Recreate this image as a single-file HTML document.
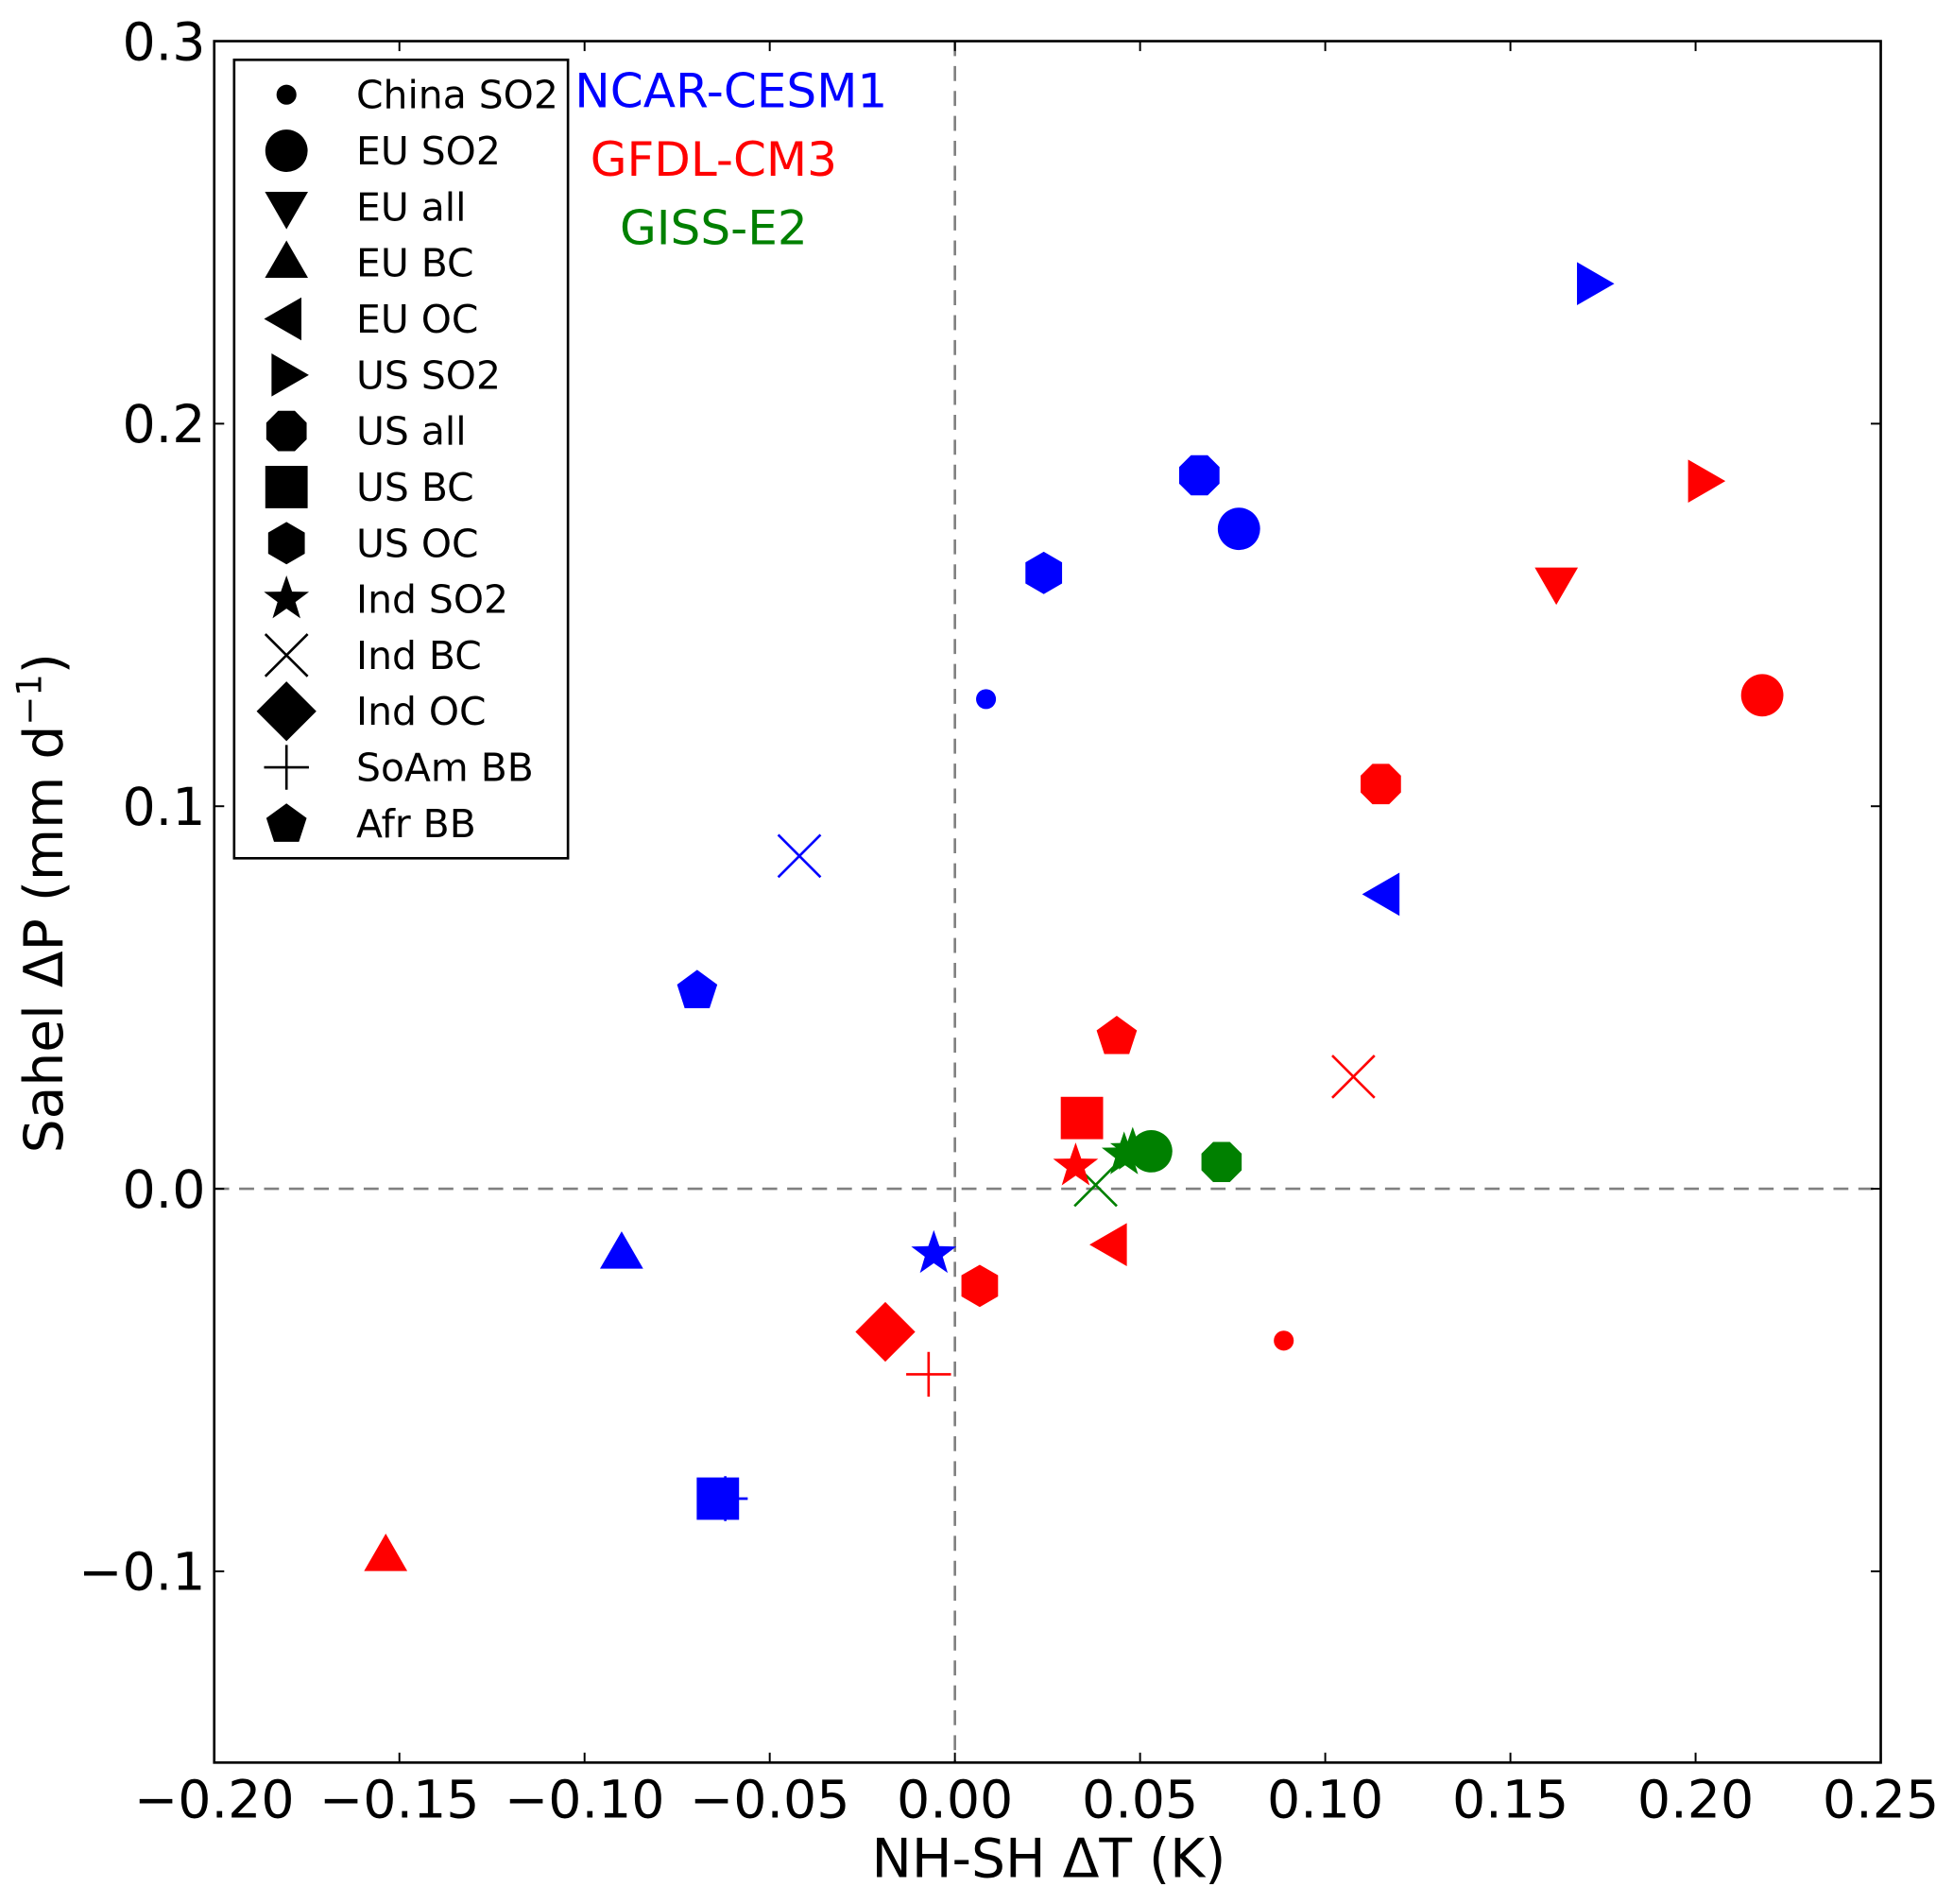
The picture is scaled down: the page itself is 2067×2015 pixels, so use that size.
<!DOCTYPE html>
<html><head><meta charset="utf-8"><style>
html,body{margin:0;padding:0;background:#fff}
svg{display:block}
text{font-family:"DejaVu Sans","Liberation Sans",sans-serif}
</style></head><body>
<svg id="chart" width="2067" height="2015" viewBox="0 0 1568 1528.5" xmlns="http://www.w3.org/2000/svg">
<rect width="1568" height="1528.5" fill="#fff"/>
<g id="grid"></g>
<g id="marks"></g>
<rect x="172" y="33" width="1338" height="1382" fill="none" stroke="#000" stroke-width="2"/>
<g id="axes"></g>
<text x="842" y="1507" font-size="43" text-anchor="middle">NH-SH ΔT (K)</text>
<text transform="translate(50,725) rotate(-90)" font-size="43" text-anchor="middle">Sahel ΔP (mm d<tspan font-size="28" dy="-17">−1</tspan><tspan dy="17">)</tspan></text>
<g>
<text x="587" y="86" font-size="38" fill="#0000ff" text-anchor="middle">NCAR-CESM1</text>
<text x="573" y="141" font-size="38" fill="#ff0000" text-anchor="middle">GFDL-CM3</text>
<text x="573" y="196" font-size="38" fill="#008000" text-anchor="middle">GISS-E2</text>
</g>
<g id="legend">
<rect x="188" y="48" width="268" height="641" fill="#fff" stroke="#000" stroke-width="2"/>
</g>
</svg>
<script>
const xTicks=[-0.20,-0.15,-0.10,-0.05,0.00,0.05,0.10,0.15,0.20,0.25];
const xTickLabels=["−0.20","−0.15","−0.10","−0.05","0.00","0.05","0.10","0.15","0.20","0.25"];
const yTicks=[-0.1,0.0,0.1,0.2,0.3];
const yTickLabels=["−0.1","0.0","0.1","0.2","0.3"];
const legendNames=["China SO2","EU SO2","EU all","EU BC","EU OC","US SO2","US all","US BC","US OC","Ind SO2","Ind BC","Ind OC","SoAm BB","Afr BB"];
const legendShapes=["smallcircle","circle","down","up","left","right","octagon","square","hexagon","star","x","diamond","plus","pentagon"];
const ncarShapes=["smallcircle","circle","left","right","octagon","square","hexagon","star","x","pentagon","up","plus"];
const ncarX=[0.0084,0.0767,0.116,0.172,0.066,-0.064,0.024,-0.0057,-0.042,-0.0696,-0.090,-0.062];
const ncarY=[0.128,0.1725,0.077,0.2366,0.1865,-0.081,0.161,-0.017,0.087,0.052,-0.017,-0.081];
const gfdlShapes=["smallcircle","circle","down","up","left","right","octagon","square","hexagon","star","x","diamond","plus","pentagon"];
const gfdlX=[0.0888,0.218,0.1624,-0.1537,0.0424,0.202,0.115,0.0343,0.0067,0.0326,0.1076,-0.0188,-0.0071,0.0437];
const gfdlY=[-0.0397,0.129,0.1585,-0.096,-0.0146,0.185,0.1058,0.0185,-0.0254,0.0059,0.0293,-0.0374,-0.0485,0.040];
const gissShapes=["star","star","circle","octagon","x"];
const gissX=[0.0480,0.0457,0.053,0.072,0.038];
const gissY=[0.0100,0.0088,0.0098,0.007,0.001];

const X0=172,X1=1510,Y0=1415,Y1=33,xmin=-0.2,xmax=0.25,ymin=-0.15,ymax=0.3;
const sx=v=>X0+(v-xmin)/(xmax-xmin)*(X1-X0);
const sy=v=>Y0-(v-ymin)/(ymax-ymin)*(Y0-Y1);
const NS="http://www.w3.org/2000/svg";
function mk(tag,attrs,parent){const e=document.createElementNS(NS,tag);for(const k in attrs)e.setAttribute(k,attrs[k]);parent.appendChild(e);return e;}
function poly(cx,cy,r,n,rot){let p=[];for(let i=0;i<n;i++){const a=rot+i*2*Math.PI/n;p.push((cx+r*Math.cos(a)).toFixed(1)+","+(cy+r*Math.sin(a)).toFixed(1));}return p.join(" ");}
function star(cx,cy,r){let p=[];for(let i=0;i<10;i++){const a=-Math.PI/2+i*Math.PI/5;const rr=i%2?r*0.4:r;p.push((cx+rr*Math.cos(a)).toFixed(1)+","+(cy+rr*Math.sin(a)).toFixed(1));}return p.join(" ");}
function shape(s,cx,cy,color,parent){
  let e;
  switch(s){
    case "smallcircle": e=mk("circle",{cx,cy,r:8,fill:color},parent);break;
    case "circle": e=mk("circle",{cx,cy,r:17,fill:color},parent);break;
    case "down": e=mk("polygon",{points:poly(cx,cy-2,20,3,Math.PI/2),fill:color},parent);break;
    case "up": e=mk("polygon",{points:poly(cx,cy+2,20,3,-Math.PI/2),fill:color},parent);break;
    case "left": e=mk("polygon",{points:poly(cx+2,cy,20,3,Math.PI),fill:color},parent);break;
    case "right": e=mk("polygon",{points:poly(cx-2,cy,20,3,0),fill:color},parent);break;
    case "octagon": e=mk("polygon",{points:poly(cx,cy,17.5,8,Math.PI/8),fill:color},parent);break;
    case "square": e=mk("rect",{x:cx-17,y:cy-17,width:34,height:34,fill:color},parent);break;
    case "hexagon": e=mk("polygon",{points:poly(cx,cy,17,6,-Math.PI/2),fill:color},parent);break;
    case "star": e=mk("polygon",{points:star(cx,cy,19),fill:color},parent);break;
    case "pentagon": e=mk("polygon",{points:poly(cx,cy+1,17,5,-Math.PI/2),fill:color},parent);break;
    case "diamond": e=mk("polygon",{points:poly(cx,cy,24,4,0),fill:color},parent);break;
    case "x": e=mk("path",{d:`M${cx-17},${cy-17}L${cx+17},${cy+17}M${cx-17},${cy+17}L${cx+17},${cy-17}`,stroke:color,"stroke-width":2,fill:"none"},parent);break;
    case "plus": e=mk("path",{d:`M${cx-18},${cy}L${cx+18},${cy}M${cx},${cy-18}L${cx},${cy+18}`,stroke:color,"stroke-width":2,fill:"none"},parent);break;
  }
  return e;
}
const grid=document.getElementById("grid");
const zx=mk("line",{x1:sx(0),x2:sx(0),y1:Y1,y2:Y0,stroke:"#808080","stroke-width":2,"stroke-dasharray":"12,8"},grid);


const zy=mk("line",{x1:X0,x2:X1,y1:sy(0),y2:sy(0),stroke:"#808080","stroke-width":2,"stroke-dasharray":"12,8"},grid);



const axes=document.getElementById("axes");
xTicks.forEach((v,i)=>{
  const x=sx(v);
  mk("line",{x1:x,x2:x,y1:Y0,y2:Y0-8,stroke:"#000","stroke-width":1.5},axes);
  mk("line",{x1:x,x2:x,y1:Y1,y2:Y1+8,stroke:"#000","stroke-width":1.5},axes);
  const t=mk("text",{x:x,y:Y0+44,"font-size":42,"text-anchor":"middle"},axes);
  t.textContent=xTickLabels[i];
  
  
});
yTicks.forEach((v,i)=>{
  const y=sy(v);
  mk("line",{x1:X0,x2:X0+8,y1:y,y2:y,stroke:"#000","stroke-width":1.5},axes);
  mk("line",{x1:X1,x2:X1-8,y1:y,y2:y,stroke:"#000","stroke-width":1.5},axes);
  const t=mk("text",{x:165,y:y+15,"font-size":42,"text-anchor":"end"},axes);
  t.textContent=yTickLabels[i];
  
  
});

const marks=document.getElementById("marks");
function series(shapes,xs,ys,color,name){
  shapes.forEach((s,i)=>{
    const e=shape(s,sx(xs[i]),sy(ys[i]),color,marks);
    
    
  });
}
series(gissShapes,gissX,gissY,"#008000","giss");
series(gfdlShapes,gfdlX,gfdlY,"#ff0000","gfdl");
series(ncarShapes,ncarX,ncarY,"#0000ff","ncar");

const legend=document.getElementById("legend");
legendNames.forEach((n,i)=>{
  const y=76+i*45.0;
  const e=shape(legendShapes[i],230,y,"#000",legend);
  
  
  const t=mk("text",{x:286,y:y+11,"font-size":31},legend);
  t.textContent=n;
  
  
});
</script>
</body></html>
